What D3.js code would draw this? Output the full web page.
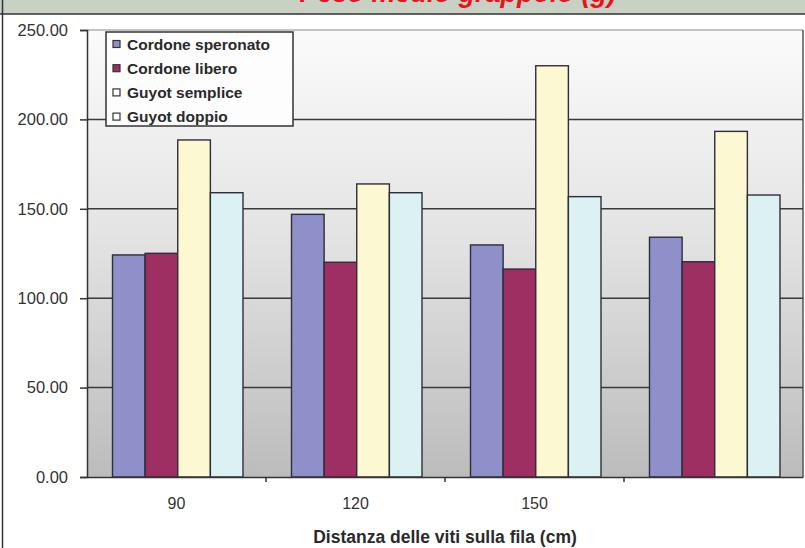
<!DOCTYPE html>
<html><head><meta charset="utf-8">
<script src="https://cdn.jsdelivr.net/npm/d3@7"></script>
<style>body{margin:0;background:#fff;}svg{display:block;}</style>
</head><body>
<svg id="c" width="805" height="548"></svg>
<script>
const categories = ["90", "120", "150", ""];
const seriesNames = ["Cordone speronato", "Cordone libero", "Guyot semplice", "Guyot doppio"];
const cordoneSperonato = [124.2, 146.9, 129.8, 134.1];
const cordoneLibero = [125.1, 120.1, 116.3, 120.4];
const guyotSemplice = [188.5, 163.9, 230.0, 193.3];
const guyotDoppio = [159.0, 159.0, 156.8, 157.7];
const yTicks = [0, 50, 100, 150, 200, 250];
const colors = ["#8f8fca", "#9e2f62", "#fbf8d2", "#dcf1f1"];
const legendMarkerColors = ["#8f8fca", "#9e2f62", "#ffffff", "#ffffff"];
const headerText = "Peso medio grappolo (g)";
const xTitle = "Distanza delle viti sulla fila (cm)";

const series = [cordoneSperonato, cordoneLibero, guyotSemplice, guyotDoppio];
const svg = d3.select("#c");
const L = 87, R = 803, T = 30, B = 477;
const FONT = "Liberation Sans, Arial, sans-serif";

// header
svg.append("rect").attr("x", 0).attr("y", 0).attr("width", 805).attr("height", 14).attr("fill", "#c9d1c5");
svg.append("text").attr("x", 616).attr("y", 1.5).attr("text-anchor", "end")
  .attr("font-family", FONT).attr("font-weight", "bold").attr("font-style", "italic")
  .attr("font-size", 27).attr("fill", "#e8141a").text(headerText);
svg.append("line").attr("x1", 0).attr("x2", 805).attr("y1", 14).attr("y2", 14).attr("stroke", "#333").attr("stroke-width", 1.5);
svg.append("line").attr("x1", 2.5).attr("x2", 2.5).attr("y1", 0).attr("y2", 548).attr("stroke", "#333").attr("stroke-width", 1.5);

const defs = svg.append("defs");
const g = defs.append("linearGradient").attr("id", "bg").attr("x1", 0).attr("y1", 0).attr("x2", 0).attr("y2", 1);
g.append("stop").attr("offset", "0%").attr("stop-color", "#fbfbfb");
g.append("stop").attr("offset", "45%").attr("stop-color", "#e4e4e4");
g.append("stop").attr("offset", "100%").attr("stop-color", "#bcbcbc");

const y = d3.scaleLinear().domain([0, 250]).range([B, T]);
const x0 = d3.scaleBand().domain(d3.range(categories.length)).range([L, R]).padding(0);
const x1 = d3.scaleBand().domain(d3.range(seriesNames.length)).range([25.5, 156]).padding(0);

svg.append("rect").attr("x", L).attr("y", T).attr("width", R - L).attr("height", B - T).attr("fill", "url(#bg)");
svg.append("line").attr("x1", L).attr("x2", R).attr("y1", T).attr("y2", T).attr("stroke", "#8a8a8a").attr("stroke-width", 1.2);
svg.append("line").attr("x1", R).attr("x2", R).attr("y1", T).attr("y2", B).attr("stroke", "#555").attr("stroke-width", 1.5);

// gridlines
svg.append("g").selectAll("line").data(yTicks.filter(d => d > 0 && d < 250)).join("line")
  .attr("x1", L).attr("x2", R).attr("y1", d => y(d)).attr("y2", d => y(d))
  .attr("stroke", "#3a3a3a").attr("stroke-width", 1.5);

// bars
const groups = svg.append("g").selectAll("g").data(categories.map((c, i) => i)).join("g")
  .attr("transform", i => `translate(${x0(i)},0)`);
groups.selectAll("rect").data(i => series.map((s, k) => ({k, v: s[i]}))).join("rect")
  .attr("x", d => x1(d.k)).attr("width", x1.bandwidth())
  .attr("y", d => y(d.v)).attr("height", d => B - y(d.v))
  .attr("fill", d => colors[d.k]).attr("stroke", "#2e2e3a").attr("stroke-width", 1.4);

// y axis
const yAxis = svg.append("g").attr("transform", `translate(${L},0)`)
  .call(d3.axisLeft(y).tickValues(yTicks).tickFormat(d3.format(".2f")).tickSize(7).tickPadding(12));
yAxis.select(".domain").attr("stroke", "#333").attr("stroke-width", 1.5);
yAxis.selectAll(".tick line").attr("stroke", "#333").attr("stroke-width", 1.5);
yAxis.selectAll("text").attr("font-family", FONT).attr("font-size", 16.5).attr("fill", "#333");

// x axis
const xAxis = svg.append("g").attr("transform", `translate(0,${B})`)
  .call(d3.axisBottom(x0).tickFormat(i => categories[i]).tickSize(0).tickPadding(21));
xAxis.select(".domain").attr("stroke", "#333").attr("stroke-width", 1.5);
xAxis.selectAll("text").attr("font-family", FONT).attr("font-size", 16).attr("fill", "#333");
svg.append("g").selectAll("line").data(d3.range(1, categories.length)).join("line")
  .attr("x1", i => x0(i)).attr("x2", i => x0(i)).attr("y1", B).attr("y2", B + 5)
  .attr("stroke", "#333").attr("stroke-width", 1.5);

svg.append("text").attr("x", (L + R) / 2).attr("y", 543).attr("text-anchor", "middle")
  .attr("font-family", FONT).attr("font-weight", "bold").attr("font-size", 17.5).attr("fill", "#2a2a2a")
  .text(xTitle);

// legend
const lg = svg.append("g");
lg.append("rect").attr("x", 106).attr("y", 32).attr("width", 187).attr("height", 94)
  .attr("fill", "#fdfdfd").attr("stroke", "#333").attr("stroke-width", 1.5);
const items = lg.selectAll("g").data(seriesNames).join("g")
  .attr("transform", (d, i) => `translate(113,${44 + i * 24.2})`);
items.append("rect").attr("x", 0).attr("y", -3.5).attr("width", 7).attr("height", 7)
  .attr("fill", (d, i) => legendMarkerColors[i]).attr("stroke", "#333").attr("stroke-width", 1.2);
items.append("text").attr("x", 14).attr("y", 5.5)
  .attr("font-family", FONT).attr("font-weight", "bold").attr("font-size", 15.5).attr("fill", "#2a2a2a")
  .text(d => d);
</script>
</body></html>
